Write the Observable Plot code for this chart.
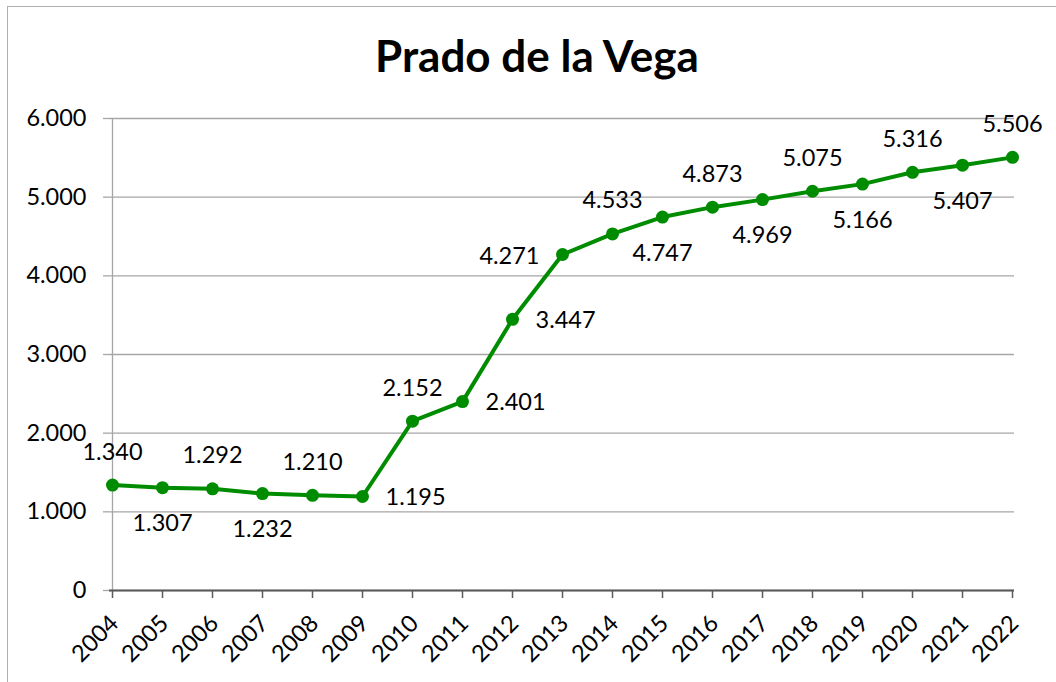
<!DOCTYPE html>
<html>
<head>
<meta charset="utf-8">
<script src="https://cdn.jsdelivr.net/npm/d3@7"></script>
<script src="https://cdn.jsdelivr.net/npm/@observablehq/plot@0.6"></script>
<style>
  html, body { margin: 0; padding: 0; background: #fff; }
  #wrap { position: relative; width: 1056px; height: 682px; overflow: hidden; }
  #border { position: absolute; left: 7px; top: 6px; width: 1100px; height: 720px;
            border-left: 1.5px solid #b0b0b0; border-top: 1.5px solid #b0b0b0; pointer-events: none; }
  svg { display: block; }
</style>
</head>
<body>
<div id="wrap"><div id="border"></div></div>
<script>
const title = "Prado de la Vega";
const years = ["2004","2005","2006","2007","2008","2009","2010","2011","2012","2013","2014","2015","2016","2017","2018","2019","2020","2021","2022"];
const values = [1340,1307,1292,1232,1210,1195,2152,2401,3447,4271,4533,4747,4873,4969,5075,5166,5316,5407,5506];
const labelPos = ["above","below","above","below","above","right","above","right","right","left","above","below","above","below","above","below","above","below","above"];
const yTicks = [0,1000,2000,3000,4000,5000,6000];

const data = years.map((y, i) => ({year: y, value: values[i], pos: labelPos[i]}));
const locale = d3.formatLocale({decimal: ",", thousands: ".", grouping: [3], currency: ["", "€"]});
const fmt = locale.format(",d");

const green = "#008c00";
const font = "Lato, 'Open Sans', sans-serif";
const fs = 23.5;

const chart = Plot.plot({
  width: 1056,
  height: 682,
  marginLeft: 109,
  marginRight: 42,
  marginTop: 118,
  marginBottom: 92,
  style: {fontFamily: font, fontSize: fs + "px", color: "#000", background: "transparent", overflow: "visible"},
  x: {type: "point", domain: years, padding: 0},
  y: {domain: [0, 6000]},
  marks: [
    Plot.gridY(yTicks, {stroke: "#a6a6a6", strokeOpacity: 1, strokeWidth: 1.3}),
    Plot.axisY(yTicks, {tickFormat: fmt, tickSize: 6, tickPadding: 17, stroke: "#a6a6a6", strokeWidth: 1.3, label: null, fontSize: fs}),
    Plot.ruleX([years[0]], {y1: 0, y2: 6000, stroke: "#a6a6a6", strokeWidth: 1.3}),
    Plot.ruleY([0], {stroke: "#5a5a5a", strokeWidth: 1.8}),
    Plot.axisX({tickSize: 8, stroke: "#5a5a5a", strokeWidth: 1.5, label: null, text: null}),
    Plot.axisX({tickSize: 0, tickPadding: 15, tickRotate: -45, dy: 14, dx: 2, label: null, fontSize: fs}),
    Plot.line(data, {x: "year", y: "value", stroke: green, strokeWidth: 4}),
    Plot.dot(data, {x: "year", y: "value", r: 6.5, fill: green, stroke: "none"}),
    Plot.text(data.filter(d => d.pos === "above"), {x: "year", y: "value", text: d => fmt(d.value), dy: -33, lineAnchor: "middle", fontSize: fs}),
    Plot.text(data.filter(d => d.pos === "below"), {x: "year", y: "value", text: d => fmt(d.value), dy: 36, lineAnchor: "middle", fontSize: fs}),
    Plot.text(data.filter(d => d.pos === "right"), {x: "year", y: "value", text: d => fmt(d.value), dx: 23, dy: 1, textAnchor: "start", lineAnchor: "middle", fontSize: fs}),
    Plot.text(data.filter(d => d.pos === "left"), {x: "year", y: "value", text: d => fmt(d.value), dx: -23, dy: 2, textAnchor: "end", lineAnchor: "middle", fontSize: fs}),
    Plot.text([title], {frameAnchor: "top", dx: -25, dy: -61, lineAnchor: "middle", fontSize: 44, fontWeight: "bold"})
  ]
});
document.getElementById("wrap").prepend(chart);
</script>
</body>
</html>
